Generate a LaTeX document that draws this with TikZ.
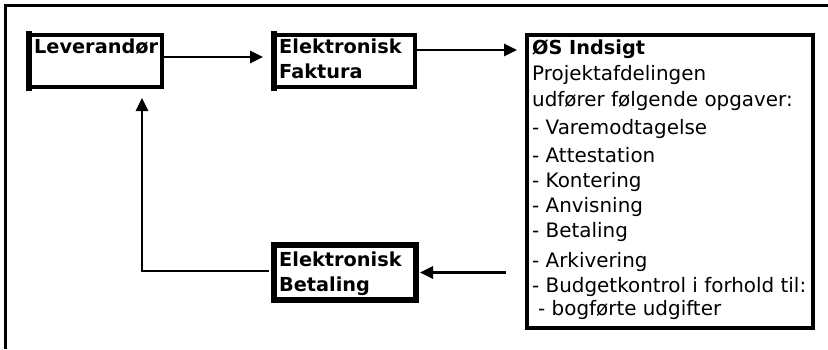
\documentclass[tikz,border=0pt]{standalone}
\usepackage{fontspec}
\setmainfont{DejaVu Sans}
\usetikzlibrary{arrows.meta}
\begin{document}
\begin{tikzpicture}[x=1pt,y=-1pt,
  box/.style={draw=black,line width=4pt,rectangle,inner sep=0pt,fill=white},
  thickbox/.style={box,line width=6pt},
  txt/.style={anchor=base west,inner sep=0pt,font=\fontsize{19.9}{24}\selectfont},
  btxt/.style={txt,font=\fontsize{19.3}{23}\selectfont\bfseries},
  conn/.style={line width=2.7pt,-{Triangle[length=13pt,width=12pt]}},
  frame/.style={line width=2.5pt}]
\useasboundingbox (0,0) rectangle (828,349);
% outer frame
\coordinate (ftr) at (828,5.5);
\coordinate (ftl) at (5.5,5.5);
\coordinate (fbl) at (5.5,349);
\draw[frame] (ftr) -- (ftl) -- (fbl);
% boxes
\node[box,minimum width=132pt,minimum height=52pt] (lev) at (96,61) {};
\node[box,minimum width=140pt,minimum height=52pt] (fak) at (345,61) {};
\node[box,minimum width=286pt,minimum height=293pt] (os) at (670,181.5) {};
\node[thickbox,minimum width=142pt,minimum height=55pt] (bet) at (345,272.5) {};
% thicker left edges
\fill ([xshift=-2pt,yshift=2pt]lev.north west) rectangle ([xshift=4pt,yshift=-2pt]lev.south west);
\fill ([xshift=-2pt,yshift=2pt]fak.north west) rectangle ([xshift=4pt,yshift=-2pt]fak.south west);
% texts
\node[btxt] (levt) at (34,53) {Leverandør};
\node[btxt] (fakt1) at (279,53) {Elektronisk};
\node[btxt] (fakt2) at (279,78) {Faktura};
\node[btxt] (bett1) at (279,266) {Elektronisk};
\node[btxt] (bett2) at (279,291) {Betaling};
\node[btxt] (os0) at (532,54) {ØS Indsigt};
\node[txt] (os1) at (532,80) {Projektafdelingen};
\node[txt] (os2) at (532,106) {udfører følgende opgaver:};
\node[txt] (os3) at (532,134) {- Varemodtagelse};
\node[txt] (os4) at (532,162) {- Attestation};
\node[txt] (os5) at (532,187) {- Kontering};
\node[txt] (os6) at (532,212) {- Anvisning};
\node[txt] (os7) at (532,237) {- Betaling};
\node[txt] (os8) at (532,267) {- Arkivering};
\node[txt] (os9) at (532,292) {- Budgetkontrol i forhold til:};
\node[txt] (os10) at (538,315) {- bogførte udgifter};
% connectors
\draw[conn,shorten >=10pt] ([yshift=4pt]lev.east) -- ([yshift=4pt]fak.west);
\draw[conn,shorten >=8pt] ([yshift=11pt]fak.east) -- ([yshift=11pt]fak.east -| os.west);
\draw[conn,shorten <=19pt,shorten >=1pt] (bet.east -| os.west) -- (bet.east);
\draw[conn,shorten <=2pt,shorten >=9pt] ([yshift=1.5pt]bet.west) -| ([xshift=46pt]lev.south);
\end{tikzpicture}
\end{document}
